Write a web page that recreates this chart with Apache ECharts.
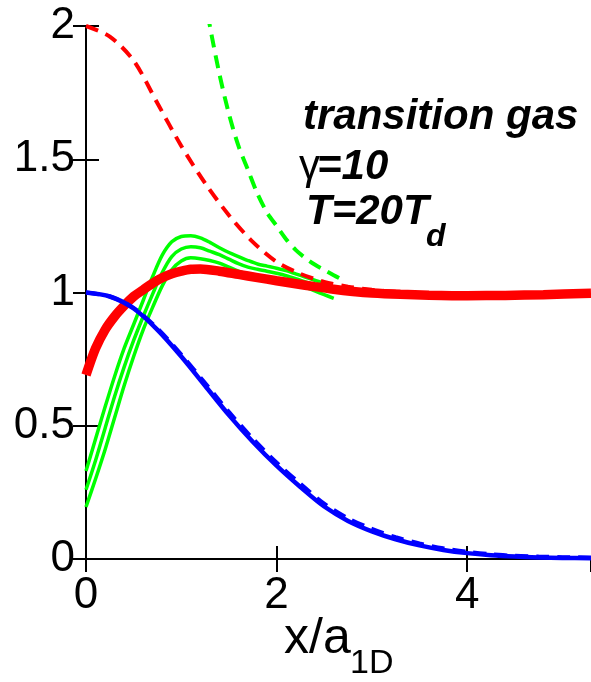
<!DOCTYPE html>
<html>
<head>
<meta charset="utf-8">
<script src="https://cdn.jsdelivr.net/npm/echarts@6/dist/echarts.min.js"></script>
<style>
  html, body { margin: 0; padding: 0; background: #fff; }
  #chart { width: 591px; height: 682px; }
</style>
</head>
<body>
<div id="chart"></div>
<script>
// Density profiles versus x/a_1D
const xTicks = [0, 2, 4];
const yTicks = [0, 0.5, 1, 1.5, 2];

// blue: solid and dashed
const xBlue = [0, 0.25, 0.5, 0.75, 1, 1.25, 1.5, 1.75, 2, 2.25, 2.5, 2.75, 3, 3.25, 3.5, 3.75, 4, 4.25, 4.5, 4.75, 5, 5.3];
const blueSolid = [1.0, 0.985, 0.94, 0.86, 0.76, 0.65, 0.54, 0.44, 0.35, 0.27, 0.197, 0.143, 0.104, 0.074, 0.051, 0.034, 0.022, 0.014, 0.009, 0.006, 0.004, 0.003];
const blueDashed = [1.0, 0.985, 0.942, 0.865, 0.767, 0.66, 0.552, 0.452, 0.362, 0.282, 0.208, 0.153, 0.113, 0.082, 0.058, 0.04, 0.027, 0.018, 0.012, 0.009, 0.007, 0.006];

// red: thick solid and dashed
const xRed = [0, 0.1, 0.2, 0.3, 0.4, 0.5, 0.6, 0.7, 0.8, 0.9, 1.0, 1.1, 1.2, 1.4, 1.6, 1.8, 2.0, 2.2, 2.4, 2.6, 2.8, 3.0, 3.3, 3.6, 4.0, 4.4, 4.8, 5.3];
const redSolid = [0.69, 0.79, 0.86, 0.91, 0.95, 0.985, 1.01, 1.035, 1.055, 1.07, 1.08, 1.087, 1.088, 1.08, 1.068, 1.056, 1.044, 1.033, 1.022, 1.012, 1.004, 0.998, 0.993, 0.99, 0.988, 0.989, 0.992, 0.997];
const xRedDashed = [0, 0.25, 0.5, 0.75, 1, 1.25, 1.5, 1.75, 2, 2.25, 2.5, 2.75, 3, 3.25, 3.5, 4, 4.5, 5, 5.3];
const redDashed = [2.0, 1.96, 1.87, 1.71, 1.55, 1.41, 1.29, 1.19, 1.115, 1.07, 1.04, 1.022, 1.01, 1.003, 0.999, 0.995, 0.995, 0.997, 0.999];

// green: three solid curves and one dashed
const xGreen = [0, 0.1, 0.2, 0.3, 0.4, 0.5, 0.6, 0.7, 0.8, 0.9, 1.0, 1.1, 1.2, 1.3, 1.4, 1.5, 1.6, 1.7, 1.8, 1.9, 2.0, 2.1, 2.2, 2.3, 2.4, 2.5, 2.6];
const greenUpper = [0.33, 0.45, 0.57, 0.685, 0.79, 0.88, 0.97, 1.06, 1.14, 1.19, 1.21, 1.213, 1.205, 1.188, 1.168, 1.15, 1.135, 1.12, 1.107, 1.099, 1.091, 1.082, 1.07, 1.058, 1.046, 1.034, 1.02];
const greenMiddle = [0.26, 0.37, 0.49, 0.61, 0.72, 0.82, 0.91, 0.995, 1.075, 1.135, 1.163, 1.172, 1.168, 1.155, 1.142, 1.125, 1.108, 1.095, 1.087, 1.08, 1.072, 1.063, 1.052, 1.04, 1.028, 1.016, 1.002];
const greenLower = [0.195, 0.30, 0.41, 0.53, 0.65, 0.76, 0.86, 0.945, 1.025, 1.085, 1.118, 1.13, 1.127, 1.12, 1.11, 1.095, 1.08, 1.068, 1.062, 1.056, 1.048, 1.04, 1.032, 1.02, 1.006, 0.992, 0.978];
const xGreenDashed = [1.2, 1.3, 1.4, 1.5, 1.6, 1.7, 1.8, 1.9, 2.0, 2.1, 2.2, 2.3, 2.4, 2.5, 2.6, 2.68];
const greenDashed = [2.2, 2.0, 1.82, 1.67, 1.55, 1.46, 1.37, 1.30, 1.25, 1.2, 1.16, 1.13, 1.105, 1.085, 1.065, 1.05];

const FONT = 'Liberation Sans, Arial, Helvetica, sans-serif';

function pairs(xs, ys) { return xs.map((x, i) => [x, ys[i]]); }

function curve(xs, ys, color, width, dashed, z) {
  return {
    type: 'line',
    data: pairs(xs, ys),
    showSymbol: false,
    symbol: 'none',
    smooth: 0.3,
    clip: true,
    z: z,
    lineStyle: { color: color, width: width, type: dashed ? [13, 8] : 'solid', cap: 'butt' }
  };
}

const tickInside = { show: true, inside: true, length: 13, lineStyle: { color: '#000', width: 2 } };
const axisLine = { show: true, lineStyle: { color: '#000', width: 2 } };

const chart = echarts.init(document.getElementById('chart'), null, { renderer: 'canvas' });
chart.setOption({
  animation: false,
  backgroundColor: '#fff',
  grid: { left: 86, right: -2, top: 26, bottom: 123, containLabel: false },
  xAxis: [
    {
      type: 'value', min: 0, max: 5.3, interval: 2, position: 'bottom',
      axisLine: axisLine, axisTick: tickInside, splitLine: { show: false },
      axisLabel: {
        show: true, margin: 15, color: '#000', fontSize: 44, fontFamily: FONT,
        showMaxLabel: false,
        formatter: v => (xTicks.indexOf(v) >= 0 ? String(v) : '')
      }
    },
    {
      type: 'value', min: 0, max: 5.3, interval: 2, position: 'top',
      axisLine: axisLine, axisTick: tickInside, splitLine: { show: false },
      axisLabel: { show: false }
    }
  ],
  yAxis: [
    {
      type: 'value', min: 0, max: 2, interval: 0.5, position: 'left',
      axisLine: axisLine, axisTick: tickInside, splitLine: { show: false },
      axisLabel: {
        show: true, margin: 11, color: '#000', fontSize: 44, fontFamily: FONT,
        formatter: v => (yTicks.indexOf(v) >= 0 ? String(v) : '')
      }
    },
    {
      type: 'value', min: 0, max: 2, interval: 0.5, position: 'right',
      axisLine: axisLine, axisTick: tickInside, splitLine: { show: false },
      axisLabel: { show: false }
    }
  ],
  series: [
    curve(xGreen, greenUpper, '#00ff00', 3.5, false, 2),
    curve(xGreen, greenMiddle, '#00ff00', 3.5, false, 2),
    curve(xGreen, greenLower, '#00ff00', 3.5, false, 2),
    curve(xGreenDashed, greenDashed, '#00ff00', 4, true, 3),
    curve(xRedDashed, redDashed, '#ff0000', 4, true, 4),
    curve(xRed, redSolid, '#ff0000', 9.5, false, 5),
    curve(xBlue, blueSolid, '#0000ff', 4.5, false, 6),
    curve(xBlue, blueDashed, '#0000ff', 4, true, 7)
  ],
  graphic: [
    { type: 'text', z: 100, style: { text: 'transition gas', x: 303, y: 117, fill: '#000', font: 'italic bold 42px ' + FONT, verticalAlign: 'middle' } },
    { type: 'text', z: 100, style: { text: 'γ', x: 299, y: 167, fill: '#000', font: 'normal 42px ' + FONT, verticalAlign: 'middle' } },
    { type: 'text', z: 100, style: { text: '=10', x: 317, y: 167, fill: '#000', font: 'italic bold 42px ' + FONT, verticalAlign: 'middle' } },
    { type: 'text', z: 100, style: { text: 'T=20T', x: 306, y: 212, fill: '#000', font: 'italic bold 42px ' + FONT, verticalAlign: 'middle' } },
    { type: 'text', z: 100, style: { text: 'd', x: 426, y: 237, fill: '#000', font: 'italic bold 32px ' + FONT, verticalAlign: 'middle' } },
    { type: 'text', z: 100, style: { text: 'x/a', x: 284, y: 639, fill: '#000', font: 'normal 50px ' + FONT, verticalAlign: 'middle' } },
    { type: 'text', z: 100, style: { text: '1D', x: 350, y: 664, fill: '#000', font: 'normal 34px ' + FONT, verticalAlign: 'middle' } }
  ]
});
</script>
</body>
</html>
